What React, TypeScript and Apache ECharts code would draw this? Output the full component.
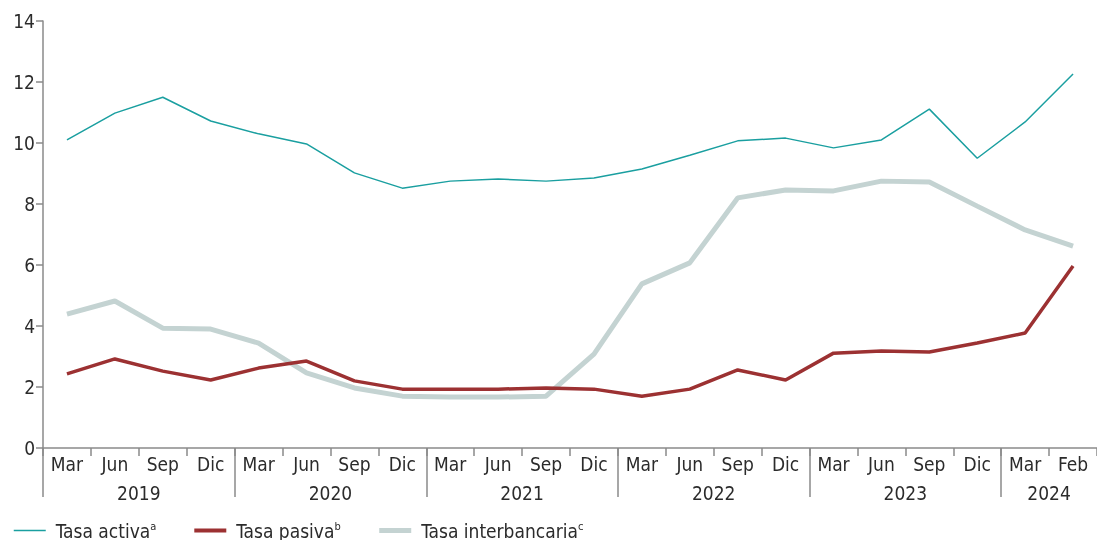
import React, { useEffect, useRef } from "react";
import * as echarts from "echarts";

const months = ["Mar","Jun","Sep","Dic","Mar","Jun","Sep","Dic","Mar","Jun","Sep","Dic","Mar","Jun","Sep","Dic","Mar","Jun","Sep","Dic","Mar","Feb"];
const years = ["2019","2020","2021","2022","2023","2024"];
const monthsPerYear = [4,4,4,4,4,2];
const yTicks = [0,2,4,6,8,10,12,14];

const tasaActiva = [10.1,10.98,11.5,10.72,10.3,9.97,9.02,8.52,8.75,8.82,8.75,8.85,9.15,9.6,10.07,10.16,9.84,10.1,11.11,9.5,10.69,12.26];
const tasaPasiva = [2.43,2.92,2.52,2.23,2.62,2.85,2.2,1.93,1.93,1.93,1.97,1.93,1.7,1.93,2.56,2.23,3.11,3.18,3.15,3.44,3.77,5.97];
const tasaInterbancaria = [4.39,4.82,3.93,3.9,3.44,2.46,1.97,1.7,1.67,1.67,1.7,3.08,5.38,6.07,8.2,8.46,8.43,8.75,8.72,7.93,7.15,6.62];

const FONT = '"Liberation Sans Narrow", "DejaVu Sans Condensed", Roboto, sans-serif';
const AXIS = "#8a8a8a";
const TXT = "#2b2b2b";
const C_ACT = "#1a9fa0";
const C_PAS = "#9c3132";
const C_INT = "#c4d3d2";

export default function App() {
  const ref = useRef<HTMLDivElement>(null);
  useEffect(() => {
    if (!ref.current) return;
    const chart = echarts.init(ref.current, null, { renderer: "svg" });
    const bounds: number[] = [0];
    const centers: number[] = [];
    monthsPerYear.forEach((n) => {
      const start = bounds[bounds.length - 1];
      centers.push(start + n / 2);
      bounds.push(start + n);
    });
    const total = months.length;
    chart.setOption({
      animation: false,
      textStyle: { fontFamily: FONT },
      grid: { left: 43, right: 0, top: 21, bottom: 92, containLabel: false },
      legend: {
        left: 8,
        top: 516,
        itemWidth: 32,
        itemHeight: 14,
        itemGap: 36,
        itemStyle: { opacity: 0 },
        textStyle: {
          fontFamily: FONT,
          color: TXT,
          rich: {
            n: { fontSize: 19, color: TXT, fontFamily: FONT, padding: [0, 0, 0, 5] },
            s: { fontSize: 11, color: TXT, fontFamily: FONT, verticalAlign: "top" },
          },
        },
        formatter: (name: string) => {
          const sup = name === "Tasa activa" ? "a" : name === "Tasa pasiva" ? "b" : "c";
          return `{n|${name}}{s|${sup}}`;
        },
        data: [
          { name: "Tasa activa", lineStyle: { color: C_ACT, width: 1.5 } },
          { name: "Tasa pasiva", lineStyle: { color: C_PAS, width: 4 } },
          { name: "Tasa interbancaria", lineStyle: { color: C_INT, width: 5 } },
        ],
      },
      xAxis: [
        {
          type: "category",
          data: months,
          boundaryGap: true,
          position: "bottom",
          axisLine: { show: true, lineStyle: { color: AXIS, width: 1.5 } },
          axisTick: { show: true, length: 8, lineStyle: { color: AXIS, width: 1.5 } },
          axisLabel: { fontSize: 19, color: TXT, margin: 6, interval: 0, fontFamily: FONT },
          splitLine: { show: false },
        },
        {
          type: "value",
          min: 0,
          max: total,
          position: "bottom",
          axisLine: { show: false },
          axisTick: { show: true, length: 49, customValues: bounds.slice(0, -1), lineStyle: { color: AXIS, width: 1.5 } },
          axisLabel: {
            show: true,
            customValues: centers,
            fontSize: 19,
            color: TXT,
            margin: 35,
            fontFamily: FONT,
            formatter: (v: number) => {
              const i = centers.findIndex((c) => Math.abs(c - v) < 1e-6);
              return i >= 0 ? years[i] : "";
            },
          },
          splitLine: { show: false },
        },
      ],
      yAxis: {
        type: "value",
        min: 0,
        max: 14,
        interval: 2,
        axisLine: { show: true, lineStyle: { color: AXIS, width: 1.5 } },
        axisTick: { show: true, length: 7, lineStyle: { color: AXIS, width: 1.5 } },
        axisLabel: { fontSize: 19, color: TXT, margin: 8, fontFamily: FONT, formatter: (v: number) => (yTicks.includes(v) ? String(v) : "") },
        splitLine: { show: false },
      },
      series: [
        {
          name: "Tasa activa",
          type: "line",
          data: tasaActiva,
          symbol: "none",
          lineStyle: { color: C_ACT, width: 1.5 },
          itemStyle: { color: C_ACT },
          z: 4,
        },
        {
          name: "Tasa pasiva",
          type: "line",
          data: tasaPasiva,
          symbol: "none",
          lineStyle: { color: C_PAS, width: 3.5 },
          itemStyle: { color: C_PAS },
          z: 3,
        },
        {
          name: "Tasa interbancaria",
          type: "line",
          data: tasaInterbancaria,
          symbol: "none",
          lineStyle: { color: C_INT, width: 5 },
          itemStyle: { color: C_INT },
          z: 2,
        },
      ],
    });
    return () => chart.dispose();
  }, []);
  return <div ref={ref} style={{ position: "fixed", left: 0, top: 0, width: 1097, height: 540 }} />;
}
